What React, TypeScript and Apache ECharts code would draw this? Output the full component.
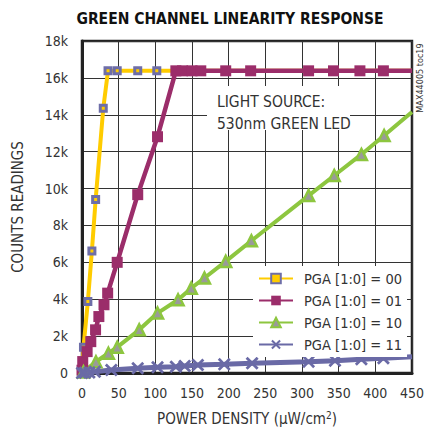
import React, { useEffect, useRef } from "react";
import * as echarts from "echarts";

const FONT = "'Liberation Sans Narrow', 'DejaVu Sans Condensed', 'Roboto', sans-serif";

const xTicks = [0, 50, 100, 150, 200, 250, 300, 350, 400, 450];
const yTickLabels: Record<number, string> = {
  0: "0", 2000: "2k", 4000: "4k", 6000: "6k", 8000: "8k",
  10000: "10k", 12000: "12k", 14000: "14k", 16000: "16k", 18000: "18k",
};

const seriesNames = ["PGA [1:0] = 00", "PGA [1:0] = 01", "PGA [1:0] = 10", "PGA [1:0] = 11"];

const pga00: number[][] = [
  [0.5, 100], [2, 1400], [8, 3880], [13.5, 6620], [18.6, 9400], [29, 14350],
  [35.5, 16383], [48, 16383], [76, 16383], [102, 16383], [450, 16383],
];
const pga01: number[][] = [
  [0, 150], [1, 620], [7, 1160], [12, 1700], [18.5, 2340], [23, 3060], [30, 3700],
  [35, 4330], [48, 6000], [76, 9670], [103, 12810], [128, 16383], [137, 16383],
  [150, 16383], [162, 16383], [196, 16383], [230, 16383], [309, 16383],
  [343, 16383], [379, 16383], [411, 16383], [450, 16383],
];
const pga10: number[][] = [
  [2, 60], [19, 610], [36, 1070], [48, 1400], [78, 2340], [103, 3250], [131, 3970],
  [149, 4600], [167, 5150], [196, 6050], [231, 7170], [309, 9620], [344, 10710],
  [381, 11850], [412, 12880], [450, 14150],
];
const pga11: number[][] = [
  [0, 0], [4, 10], [10, 30], [17.6, 70], [40, 160], [76, 255], [103, 310],
  [128, 340], [140, 380], [158, 435], [194, 470], [232, 525], [309, 615],
  [345, 670], [381, 745], [411, 800], [450, 885],
];

const CROSS = "path://M1.5,0 L5,3.5 L8.5,0 L10,1.5 L6.5,5 L10,8.5 L8.5,10 L5,6.5 L1.5,10 L0,8.5 L3.5,5 L0,1.5 Z";

function withLastNoSymbol(d: number[][]) {
  return d.map((p, i) => (i === d.length - 1 ? { value: p, symbol: "none" } : p));
}

export default function App() {
  const ref = useRef<HTMLDivElement>(null);
  useEffect(() => {
    const chart = echarts.init(ref.current!, undefined, { renderer: "svg" });
    chart.setOption({
      animation: false,
      backgroundColor: "#fff",
      title: {
        text: "GREEN CHANNEL LINEARITY RESPONSE",
        left: 225,
        textAlign: "center",
        top: 6,
        textStyle: { fontFamily: FONT, fontSize: 15.5, fontWeight: "bold", color: "#111" },
      },
      grid: {
        left: 82, right: 13, top: 41, bottom: 62,
        show: true, borderColor: "#222", borderWidth: 2.5,
      },
      legend: {
        orient: "vertical",
        left: 253,
        top: 266,
        data: seriesNames,
        itemWidth: 34,
        itemHeight: 12,
        itemGap: 7,
        padding: [5, 5, 5, 5],
        backgroundColor: "#fff",
        textStyle: { fontFamily: FONT, fontSize: 14.5, color: "#333", padding: [0, 0, 0, 6] },
      },
      xAxis: {
        type: "value",
        min: 0, max: 450, interval: 50,
        axisLine: { show: true, lineStyle: { color: "#222", width: 3 } },
        axisTick: { show: false },
        splitLine: { show: true, lineStyle: { color: "#333", width: 1 } },
        axisLabel: {
          fontFamily: FONT, fontSize: 14, color: "#333", margin: 13,
          formatter: (v: number) => (xTicks.includes(v) ? String(v) : ""),
        },
        name: "POWER DENSITY (µW/cm{sup|2})",
        nameLocation: "middle",
        nameGap: 37,
        nameTextStyle: {
          fontFamily: FONT, fontSize: 15, color: "#333",
          rich: { sup: { fontFamily: FONT, fontSize: 10, color: "#333", verticalAlign: "top", padding: [0, 0, 8, 0] } },
        },
      },
      yAxis: {
        type: "value",
        min: 0, max: 18000, interval: 2000,
        axisLine: { show: true, lineStyle: { color: "#222", width: 3 } },
        axisTick: { show: false },
        splitLine: { show: true, lineStyle: { color: "#333", width: 1 } },
        axisLabel: {
          fontFamily: FONT, fontSize: 14, color: "#333", margin: 14,
          formatter: (v: number) => yTickLabels[v] ?? "",
        },
        name: "COUNTS READINGS",
        nameLocation: "middle",
        nameGap: 57,
        nameTextStyle: { fontFamily: FONT, fontSize: 15, color: "#333" },
      },
      graphic: [
        {
          type: "rect",
          shape: { x: 207, y: 86, width: 143, height: 44 },
          style: { fill: "#fff" },
          z: 10,
        },
        {
          type: "text",
          x: 217, y: 91,
          style: {
            text: "LIGHT SOURCE:\n530nm GREEN LED",
            font: `15.5px ${FONT}`,
            fill: "#333",
            lineHeight: 22,
          },
          z: 11,
        },
        {
          type: "text",
          x: 420, y: 78,
          rotation: Math.PI / 2,
          style: {
            text: "MAX44005 toc19",
            font: `9px ${FONT}`,
            fill: "#333",
            align: "center",
            verticalAlign: "middle",
          },
          z: 11,
        },
      ],
      series: [
        {
          name: seriesNames[0],
          type: "line",
          data: withLastNoSymbol(pga00),
          symbol: "rect",
          symbolSize: 6,
          lineStyle: { color: "#ffcc00", width: 4 },
          itemStyle: { color: "#ffcc00", borderColor: "#6e6ea8", borderWidth: 3 },
        },
        {
          name: seriesNames[1],
          type: "line",
          data: withLastNoSymbol(pga01),
          symbol: "rect",
          symbolSize: 11,
          lineStyle: { color: "#9b2d6a", width: 4.5 },
          itemStyle: { color: "#9b2d6a" },
        },
        {
          name: seriesNames[2],
          type: "line",
          data: withLastNoSymbol(pga10),
          symbol: "triangle",
          symbolSize: 11,
          lineStyle: { color: "#8dc63f", width: 4 },
          itemStyle: { color: "#9a9a9a", borderColor: "#8dc63f", borderWidth: 2.5 },
        },
        {
          name: seriesNames[3],
          type: "line",
          data: withLastNoSymbol(pga11),
          symbol: CROSS,
          symbolSize: 13,
          lineStyle: { color: "#6a6aa6", width: 5 },
          itemStyle: { color: "#6a6aa6" },
        },
      ],
    });
    return () => chart.dispose();
  }, []);
  return <div ref={ref} style={{ width: 427, height: 435, position: "absolute", left: 0, top: 0 }} />;
}
